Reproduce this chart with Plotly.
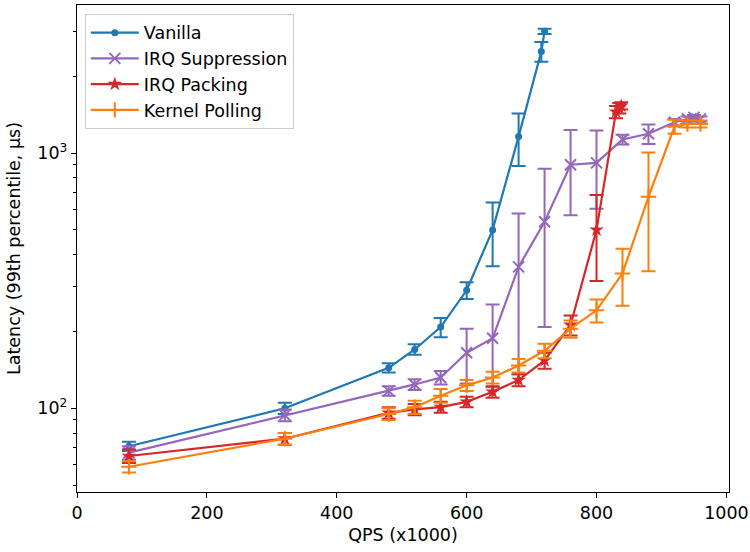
import plotly.graph_objects as go

# Data (QPS x1000, latency us, symmetric error)
van_x = [80, 320, 480, 520, 560, 600, 640, 680, 715, 720]
van_y = [71, 100, 144, 170, 208, 290, 500, 1160, 2500, 3000]
van_e = [3, 5, 6, 8, 18, 22, 140, 270, 220, 70]

sup_x = [80, 320, 480, 520, 560, 600, 640, 680, 720, 760, 800, 840, 880, 920, 940, 950, 960]
sup_y = [67, 94, 117, 124, 132, 165, 188, 358, 538, 900, 915, 1130, 1190, 1320, 1360, 1380, 1360]
sup_e = [4, 5, 5, 6, 8, 40, 67, 222, 330, 330, 310, 50, 105, 40, 30, 30, 30]

pack_x = [80, 320, 480, 520, 560, 600, 640, 680, 720, 760, 800, 830, 835, 838]
pack_y = [65, 76, 96, 99, 101, 106, 116, 129, 154, 212, 500, 1450, 1500, 1530]
pack_e = [4, 4, 5, 5, 5, 5, 6, 7, 11, 19, 185, 80, 70, 50]

poll_x = [80, 320, 480, 520, 560, 600, 640, 680, 720, 760, 800, 840, 880, 920, 940, 960]
poll_y = [59, 76, 95, 101, 112, 123, 132, 147, 168, 205, 242, 337, 674, 1270, 1300, 1300]
poll_e = [3, 4, 5, 6, 7, 6, 7, 9, 11, 16, 25, 85, 330, 80, 40, 40]

series = [
    ("Vanilla", van_x, van_y, van_e, "#1f77b4", dict(symbol="circle", size=7)),
    ("IRQ Suppression", sup_x, sup_y, sup_e, "#9467bd",
     dict(symbol="x-thin", size=11, line=dict(width=2, color="#9467bd"))),
    ("IRQ Packing", pack_x, pack_y, pack_e, "#d62728", dict(symbol="star", size=11)),
    ("Kernel Polling", poll_x, poll_y, poll_e, "#ff7f0e",
     dict(symbol="cross-thin", size=11, line=dict(width=2, color="#ff7f0e"))),
]

fig = go.Figure()
for name, x, y, e, c, mk in series:
    fig.add_trace(go.Scatter(
        x=x, y=y, name=name, mode="lines+markers", legendgroup=name,
        line=dict(color=c, width=2.2),
        marker=dict(color=c, **mk),
        error_y=dict(type="data", array=e, visible=True, color=c, thickness=2, width=7),
    ))

minor_vals = [50, 60, 70, 80, 90, 200, 300, 400, 500, 600, 700, 800, 900, 2000, 3000]
FS = 17.5

fig.update_layout(
    width=750, height=552,
    margin=dict(l=77, r=21, t=5, b=60),
    paper_bgcolor="white", plot_bgcolor="white",
    font=dict(family="DejaVu Sans", size=FS, color="black"),
    showlegend=True,
    legend=dict(x=0.012, y=0.982, xanchor="left", yanchor="top",
                bgcolor="rgba(255,255,255,0.8)", bordercolor="#cccccc", borderwidth=1,
                font=dict(size=FS), itemwidth=48, tracegroupgap=0),
    xaxis=dict(
        range=[0, 1004], tickvals=[0, 200, 400, 600, 800, 1000], automargin=False,
        showline=True, linecolor="black", linewidth=1.3, mirror=True,
        ticks="outside", ticklen=5, tickcolor="black", showgrid=False, zeroline=False,
        tickfont=dict(size=FS),
        title=dict(text="QPS (x1000)", standoff=6, font=dict(size=FS)),
    ),
    yaxis=dict(
        type="log", range=[1.672, 3.58], automargin=False,
        tickvals=[100, 1000], ticktext=["10<sup>2</sup>", "10<sup>3</sup>"],
        showline=True, linecolor="black", linewidth=1.3, mirror=True,
        ticks="outside", ticklen=5, tickcolor="black", showgrid=False, zeroline=False,
        tickfont=dict(size=FS),
        minor=dict(tickvals=minor_vals, ticks="outside", ticklen=3, tickcolor="black", showgrid=False),
        title=dict(text="Latency (99th percentile, μs)", standoff=12, font=dict(size=FS)),
    ),
)

fig.write_html("out.html", config={"displayModeBar": False},
               post_script="document.body.style.margin='0';document.body.style.padding='0';")
